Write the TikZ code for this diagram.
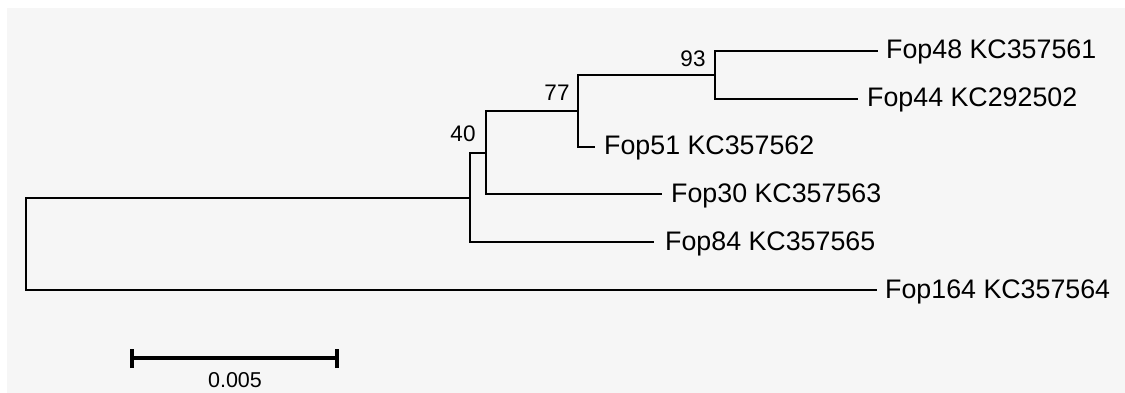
\documentclass[tikz,border=0pt]{standalone}
\usepackage{fontspec}
\setmainfont{Liberation Sans}
\definecolor{bg}{HTML}{F6F6F6}
\begin{document}
\begin{tikzpicture}[x=1pt,y=-1pt,
  branch/.style={line width=2.3pt, line cap=rect},
  leaf/.style={anchor=base west, inner sep=0pt, font=\fontsize{26.8}{30}\selectfont},
  boot/.style={inner sep=0pt, font=\fontsize{22.5}{26}\selectfont},
  scalebar/.style={line width=4pt}]
\useasboundingbox (0,0) rectangle (1125,393);
\fill[white] (0,0) rectangle (1125,393);
\fill[bg] (7,8) rectangle (1125,393);
% internal nodes
\coordinate (n0) at (26,244);
\coordinate (n1) at (470,198);
\coordinate (n2) at (486,153);
\coordinate (n3) at (578,111);
\coordinate (n4) at (715,75);
% tips
\coordinate (t48) at (877,51);
\coordinate (t44) at (857,99);
\coordinate (t51) at (594,147);
\coordinate (t30) at (661,194);
\coordinate (t84) at (653,242);
\coordinate (t164) at (876,290);
% branches
\draw[branch] (n0) |- (n1);
\draw[branch] (n0) |- (t164);
\draw[branch] (n1) |- (n2);
\draw[branch] (n1) |- (t84);
\draw[branch] (n2) |- (n3);
\draw[branch] (n2) |- (t30);
\draw[branch] (n3) |- (n4);
\draw[branch] (n3) |- (t51);
\draw[branch] (n4) |- (t48);
\draw[branch] (n4) |- (t44);
% leaf labels
\node[leaf] (l48) at ([xshift=9pt,yshift=-8pt]t48) {Fop48 KC357561};
\node[leaf] (l44) at ([xshift=10pt,yshift=-8pt]t44) {Fop44 KC292502};
\node[leaf] (l51) at ([xshift=10pt,yshift=-8pt]t51) {Fop51 KC357562};
\node[leaf] (l30) at ([xshift=10pt,yshift=-8pt]t30) {Fop30 KC357563};
\node[leaf] (l84) at ([xshift=12pt,yshift=-8pt]t84) {Fop84 KC357565};
\node[leaf] (l164) at ([xshift=9pt,yshift=-8pt]t164) {Fop164 KC357564};
% bootstrap values
\node[boot] (b93) at (693,59) {93};
\node[boot] (b77) at (557,93) {77};
\node[boot] (b40) at (463,134) {40};
% scale bar
\coordinate (s0) at (132,358);
\coordinate (s1) at (337,358);
\draw[scalebar] (s0) -- (s1);
\draw[scalebar] ([yshift=-10pt]s0) -- ([yshift=9pt]s0);
\draw[scalebar] ([yshift=-10pt]s1) -- ([yshift=9pt]s1);
\node[boot, font=\fontsize{21.5}{24}\selectfont] (sl) at (235,380) {0.005};
\end{tikzpicture}
\end{document}
